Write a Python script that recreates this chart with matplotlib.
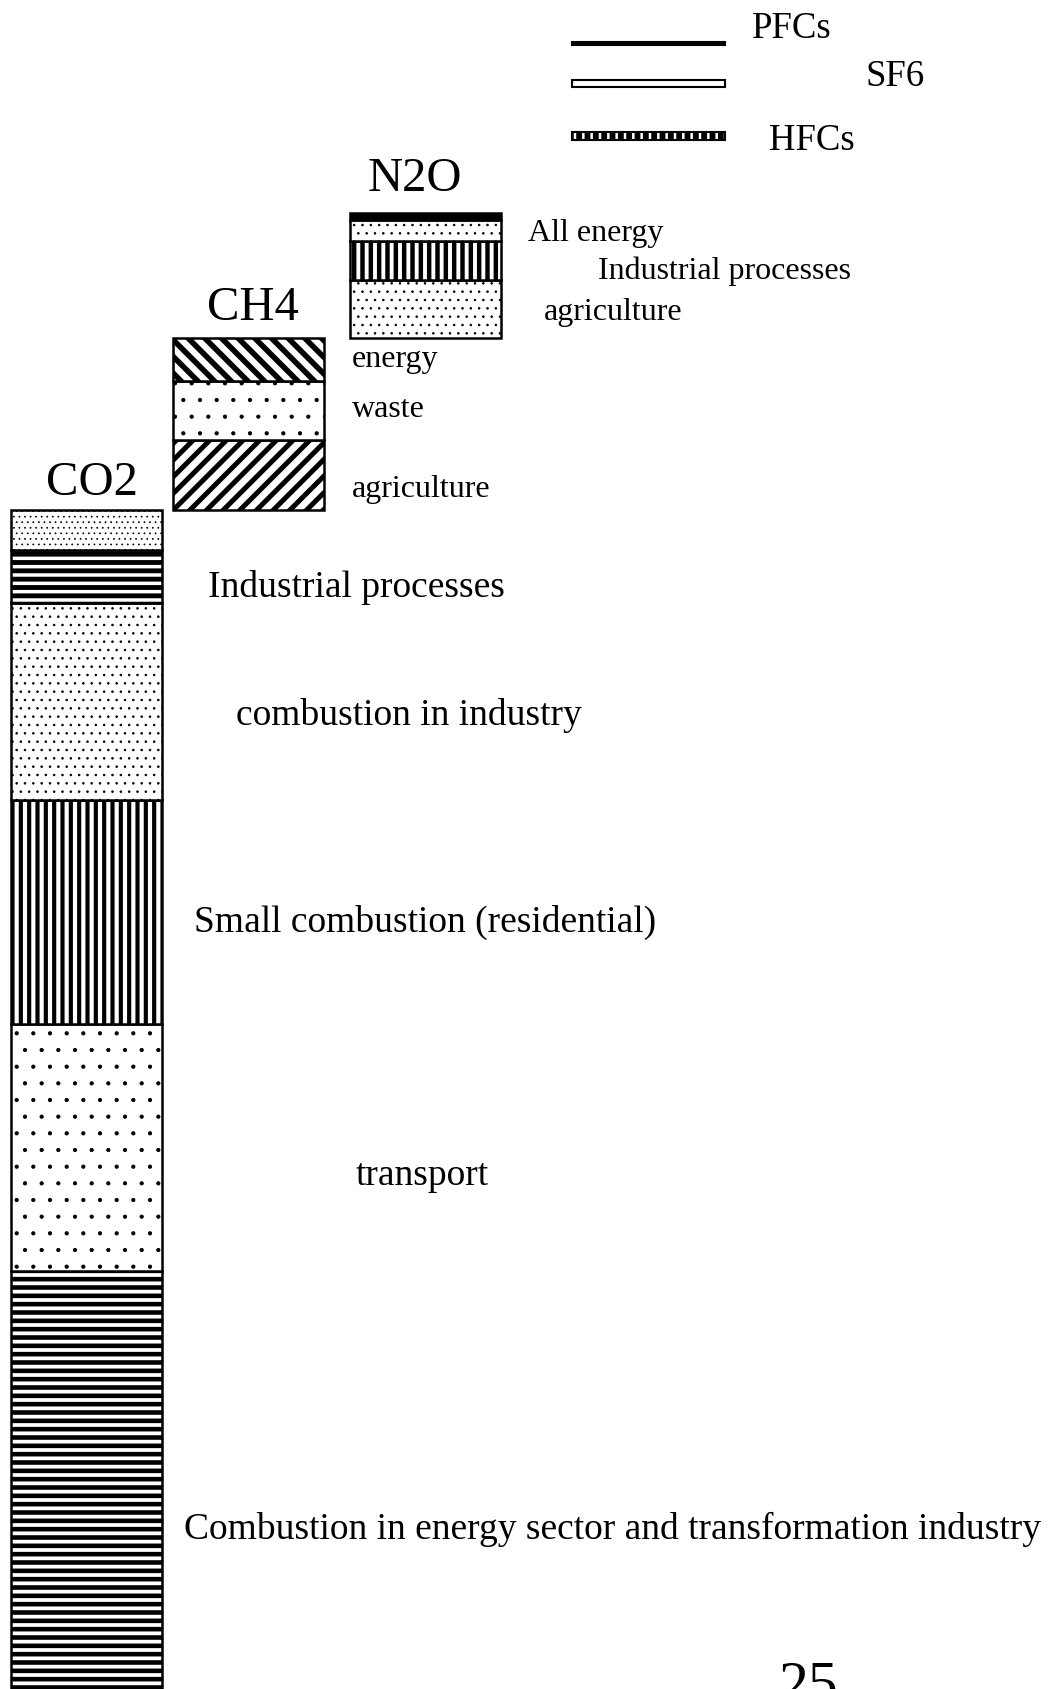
import numpy as np
import matplotlib
matplotlib.use('Agg')
import matplotlib.pyplot as plt

plt.rcParams['font.family'] = ['Liberation Serif', 'DejaVu Serif']

# datos: alturas de cada tramo, de abajo hacia arriba (unidades arbitrarias)
gases = ['CO2', 'CH4', 'N2O']
co2_sources = ['Combustion in energy sector and transformation industry', 'transport',
               'Small combustion (residential)', 'combustion in industry',
               'Industrial processes', 'other']
co2_values = [52.0, 24.7, 22.4, 19.7, 5.3, 4.0]
ch4_sources = ['agriculture', 'waste', 'energy']
ch4_values = [7.0, 5.9, 4.3]
n2o_sources = ['agriculture', 'Industrial processes', 'All energy', 'other']
n2o_values = [5.8, 3.9, 2.1, 0.7]
fgas_names = ['HFCs', 'SF6', 'PFCs']
fgas_values = [0.8, 0.7, 0.35]

# estilos de relleno (hatch, grosor de hatch, color)
co2_style = [('--', 3.3, 'white'), ('.', 0.6, 'white'), ('||', 3.0, 'white'),
             ('..', 0.6, 'white'), ('--', 3.5, 'white'), ('...', 0.5, 'white')]
ch4_style = [('//', 3.6, 'white'), ('.', 0.6, 'white'), ('\\\\', 4.0, 'white')]
n2o_style = [('..', 0.6, 'white'), ('||', 3.2, 'white'), ('..', 0.6, 'white'), ('', 1.0, 'black')]
fgas_style = [('||', 4.2, 'white'), ('', 1.0, 'white'), ('', 1.0, 'black')]

# layout
W, H = 1055, 1689
x_pos = [86.5, 248, 425.5]
x_fgas = 648.5
bar_w = 151
fgas_level = [165.1, 170.4, 174.6]

fig = plt.figure(figsize=(W / 100, H / 100), dpi=100)
ax = fig.add_axes([0, 0, 1, 1])
ax.set_xlim(0, W)
ax.set_ylim(10.2, 179.1)
ax.axis('off')


def segmento(x, h, b, hatch, hlw, fc, w=bar_w, lw=1.8):
    with plt.rc_context({'hatch.linewidth': hlw}):
        p = ax.bar(x, h, width=w, bottom=b, color=fc, edgecolor='black',
                   linewidth=lw, hatch=hatch)[0]
    if hasattr(p, 'set_hatch_linewidth'):
        p.set_hatch_linewidth(hlw)
    return p


# columnas en escalera: cada gas empieza donde acaba el anterior
base = 0.0
for x, vals, estilos in zip(x_pos, [co2_values, ch4_values, n2o_values],
                            [co2_style, ch4_style, n2o_style]):
    for v, (ht, hlw, fc) in zip(vals, estilos):
        segmento(x, v, base, ht, hlw, fc)
        base += v

# gases fluorados como barras finas
for v, lvl, (ht, hlw, fc) in zip(fgas_values, fgas_level, fgas_style):
    segmento(x_fgas, v, lvl, ht, hlw, fc, w=153, lw=1.5)

# textos (x, linea base en pixeles, tamano)
etiquetas = [
    ('CO2', 92, 495, 35, 'center'),
    ('CH4', 253, 320, 35, 'center'),
    ('N2O', 415, 191, 35, 'center'),
    ('PFCs', 752, 38, 26.5, 'left'),
    ('SF6', 865, 86, 26.5, 'left'),
    ('HFCs', 769, 150, 26.5, 'left'),
    ('All energy', 528, 241, 23, 'left'),
    ('Industrial processes', 598, 279, 23, 'left'),
    ('agriculture', 544, 320, 23, 'left'),
    ('energy', 352, 367, 23, 'left'),
    ('waste', 352, 417, 23, 'left'),
    ('agriculture', 352, 497, 23, 'left'),
    ('Industrial processes', 208, 597, 27, 'left'),
    ('combustion in industry', 236, 725, 27, 'left'),
    ('Small combustion (residential)', 194, 932, 27, 'left'),
    ('transport', 356, 1185, 27, 'left'),
    ('Combustion in energy sector and transformation industry', 184, 1539, 27, 'left'),
]
for s, x, y, fs, ha in etiquetas:
    fig.text(x / W, 1 - y / H, s, fontsize=fs, ha=ha, va='baseline')

fig.text(778 / W, 1 - 1661 / H, '25', fontsize=43, ha='left', va='top')

fig.savefig('out.png', dpi=100)
